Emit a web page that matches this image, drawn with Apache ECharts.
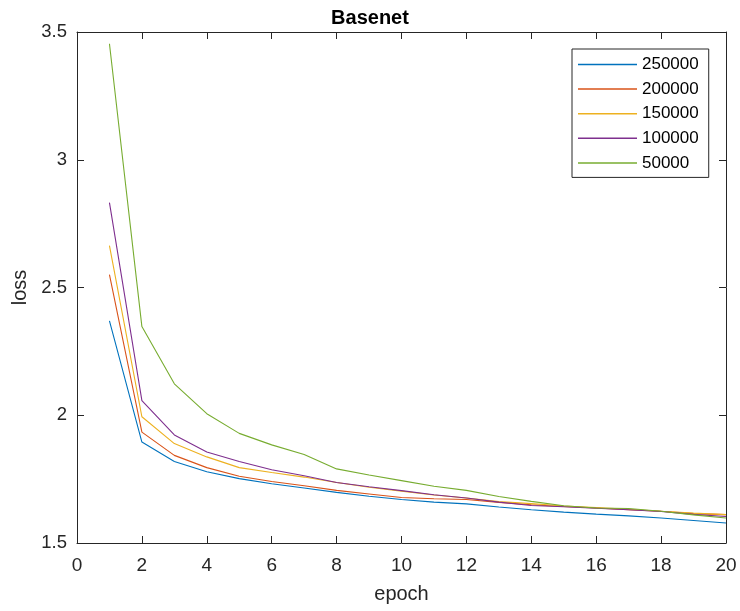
<!DOCTYPE html>
<html>
<head>
<meta charset="utf-8">
<script src="https://cdn.jsdelivr.net/npm/echarts@6/dist/echarts.min.js"></script>
<style>
html,body{margin:0;padding:0;background:#fff;}
#chart{width:740px;height:611px;}
</style>
</head>
<body>
<div id="chart"></div>
<script>
const epochs = [1,2,3,4,5,6,7,8,9,10,11,12,13,14,15,16,17,18,19,20];
const seriesNames = ['250000','200000','150000','100000','50000'];
const loss250000 = [2.369,1.895,1.819,1.779,1.752,1.732,1.715,1.698,1.683,1.670,1.660,1.653,1.641,1.630,1.621,1.613,1.606,1.598,1.588,1.578];
const loss200000 = [2.550,1.934,1.843,1.795,1.761,1.741,1.724,1.706,1.692,1.678,1.673,1.670,1.659,1.650,1.643,1.637,1.630,1.624,1.615,1.611];
const loss150000 = [2.664,1.994,1.889,1.837,1.795,1.776,1.758,1.737,1.718,1.703,1.688,1.676,1.662,1.654,1.645,1.639,1.632,1.624,1.617,1.611];
const loss100000 = [2.832,2.057,1.923,1.856,1.819,1.787,1.763,1.737,1.720,1.705,1.689,1.676,1.660,1.647,1.642,1.636,1.630,1.623,1.612,1.604];
const loss50000  = [3.454,2.347,2.123,2.006,1.929,1.884,1.846,1.790,1.766,1.744,1.722,1.706,1.682,1.663,1.646,1.637,1.635,1.624,1.610,1.598];
const xTicks = [0,2,4,6,8,10,12,14,16,18,20];
const yTicks = [1.5,2,2.5,3,3.5];

const colors = ['#0072BD','#D95319','#EDB120','#7E2F8E','#77AC30'];
const allData = [loss250000, loss200000, loss150000, loss100000, loss50000];
const font = 'Liberation Sans, Arial, Helvetica, sans-serif';
const ink = '#262626';

const chart = echarts.init(document.getElementById('chart'));
const gridPos = {left:77, right:14, top:32, bottom:68};

function xAxisCfg(pos, showLabels) {
  return {
    type:'value', position:pos, min:xTicks[0], max:xTicks[xTicks.length-1], interval:2,
    axisLine:{show:true, onZero:false, lineStyle:{color:ink, width:1}},
    axisTick:{show:true, inside:true, length:7, lineStyle:{color:ink}},
    axisLabel:{show:showLabels, color:ink, fontFamily:font, fontSize:19, margin:13},
    splitLine:{show:false},
    name: showLabels ? 'epoch' : '', nameLocation:'middle', nameGap:41,
    nameTextStyle:{color:ink, fontFamily:font, fontSize:20}
  };
}
function yAxisCfg(pos, showLabels) {
  return {
    type:'value', position:pos, min:yTicks[0], max:yTicks[yTicks.length-1], interval:0.5,
    axisLine:{show:true, onZero:false, lineStyle:{color:ink, width:1}},
    axisTick:{show:true, inside:true, length:7, lineStyle:{color:ink}},
    axisLabel:{show:showLabels, color:ink, fontFamily:font, fontSize:18.5, margin:10,
      formatter: v => String(v)},
    splitLine:{show:false},
    name: showLabels ? 'loss' : '', nameLocation:'middle', nameGap:41,
    nameTextStyle:{color:ink, fontFamily:font, fontSize:20}
  };
}

chart.setOption({
  animation:false,
  backgroundColor:'#fff',
  title:{
    text:'Basenet', left:'center', top:3,
    textStyle:{color:'#000', fontFamily:font, fontSize:20, fontWeight:'bold'}
  },
  grid:gridPos,
  xAxis:[xAxisCfg('bottom', true), xAxisCfg('top', false)],
  yAxis:[yAxisCfg('left', true), yAxisCfg('right', false)],
  legend:{
    orient:'vertical', left:572, top:49,
    backgroundColor:'#fff', borderColor:ink, borderWidth:1, borderRadius:0,
    padding:[7,10,6,6],
    itemWidth:59, itemHeight:1.5, itemGap:7.6,
    icon:'rect',
    textStyle:{color:'#000', fontFamily:font, fontSize:17, padding:[0,0,0,0]},
    data: seriesNames
  },
  series: seriesNames.map((n,i)=>({
    name:n, type:'line', xAxisIndex:0, yAxisIndex:0,
    data: epochs.map((e,j)=>[e, allData[i][j]]),
    showSymbol:false, symbol:'none',
    lineStyle:{color:colors[i], width:1.1},
    itemStyle:{color:colors[i]}
  }))
});
</script>
</body>
</html>
